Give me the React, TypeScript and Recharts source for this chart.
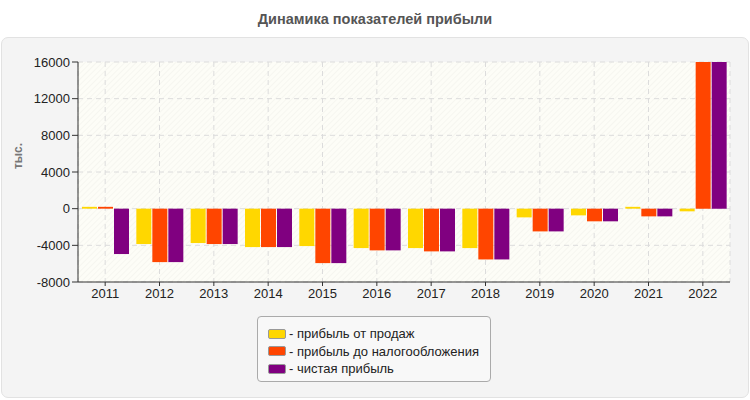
import { BarChart, Bar, XAxis, YAxis, CartesianGrid } from 'recharts';

const years = ['2011', '2012', '2013', '2014', '2015', '2016', '2017', '2018', '2019', '2020', '2021', '2022'];
const salesProfit = [200, -3860, -3750, -4190, -4080, -4300, -4300, -4300, -950, -730, 200, -290];
const preTaxProfit = [200, -5830, -3860, -4190, -5940, -4550, -4660, -5540, -2480, -1380, -840, 16000];
const netProfit = [-4950, -5830, -3860, -4190, -5940, -4550, -4660, -5540, -2480, -1380, -840, 16000];
const yTicks = [-8000, -4000, 0, 4000, 8000, 12000, 16000];

const series = [
  { key: 'sales', label: '- прибыль от продаж', color: '#FFD700' },
  { key: 'pretax', label: '- прибыль до налогообложения', color: '#FF4500' },
  { key: 'net', label: '- чистая прибыль', color: '#800080' },
];

const data = years.map((year, i) => ({
  year,
  sales: salesProfit[i],
  pretax: preTaxProfit[i],
  net: netProfit[i],
}));

const font = "'Liberation Sans', Arial, sans-serif";

const App = () => {
  return (
    <div style={{ position: 'fixed', left: 0, top: 0, width: 750, height: 400, background: '#fff', fontFamily: font }}>
      {/* Title */}
      <div
        style={{
          position: 'absolute', left: 0, top: 11, width: 750, textAlign: 'center',
          fontSize: 14.5, fontWeight: 'bold', color: '#555',
        }}
      >
        Динамика показателей прибыли
      </div>

      {/* Panel */}
      <div
        style={{
          position: 'absolute', left: 1, top: 37, width: 746, height: 359,
          background: '#f4f4f4', border: '1px solid #e2e2e2', borderRadius: 7,
        }}
      />

      {/* Y label */}
      <div
        style={{
          position: 'absolute', left: 18, top: 156, transform: 'translate(-50%, -50%) rotate(-90deg)',
          fontSize: 12, fontWeight: 'bold', color: '#777', whiteSpace: 'nowrap',
        }}
      >
        тыс.
      </div>

      <div style={{ position: 'absolute', left: 0, top: 0 }}>
        <BarChart
          width={750}
          height={400}
          data={data}
          margin={{ top: 62, right: 20, bottom: 88, left: 18 }}
          barGap={1}
          barCategoryGap={4}
        >
          <defs>
            <pattern id="hatch" width="4" height="4" patternUnits="userSpaceOnUse" patternTransform="rotate(45)">
              <rect width="4" height="4" fill="#fdfdf7" />
              <line x1="0" y1="0" x2="0" y2="4" stroke="#f0f0ea" strokeWidth="1" />
            </pattern>
          </defs>
          <CartesianGrid
            stroke="#dcdcdc"
            strokeDasharray="5 4"
            fill="url(#hatch)"
            fillOpacity={1}
          />
          <XAxis
            dataKey="year"
            axisLine={{ stroke: '#333' }}
            tickLine={{ stroke: '#333' }}
            tickSize={4}
            height={30}
            tick={{ fontSize: 13, fill: '#222', fontFamily: font }}
            tickMargin={3}
          />
          <XAxis xAxisId="top" dataKey="year" orientation="top" axisLine={{ stroke: '#ddd' }} tick={false} tickLine={false} height={0} />
          <YAxis
            domain={[-8000, 16000]}
            ticks={yTicks}
            allowDataOverflow
            interval={0}
            axisLine={{ stroke: '#333' }}
            tickLine={{ stroke: '#333' }}
            tickSize={6}
            width={60}
            tick={{ fontSize: 13, fill: '#222', fontFamily: font }}
            tickMargin={2}
          />
          <YAxis yAxisId="right" orientation="right" domain={[-8000, 16000]} axisLine={{ stroke: '#ddd' }} tick={false} tickLine={false} width={0} />
          {series.map((s) => (
            <Bar key={s.key} dataKey={s.key} fill={s.color} isAnimationActive={false} />
          ))}
        </BarChart>
      </div>

      {/* Legend */}
      <div
        style={{
          position: 'absolute', left: 257, top: 316, width: 234, height: 66,
          background: '#f8f8f8', border: '1px solid #aaa', borderRadius: 4,
          boxSizing: 'border-box', padding: '8px 0 0 10px',
        }}
      >
        {series.map((s) => (
          <div key={s.key} style={{ display: 'flex', alignItems: 'center', height: 17.5, fontSize: 13, color: '#222' }}>
            <span
              style={{
                display: 'inline-block', width: 16, height: 8, background: s.color,
                border: '1px solid #999', borderRadius: 2, marginRight: 3,
              }}
            />
            <span>{s.label}</span>
          </div>
        ))}
      </div>
    </div>
  );
};

export default App;
